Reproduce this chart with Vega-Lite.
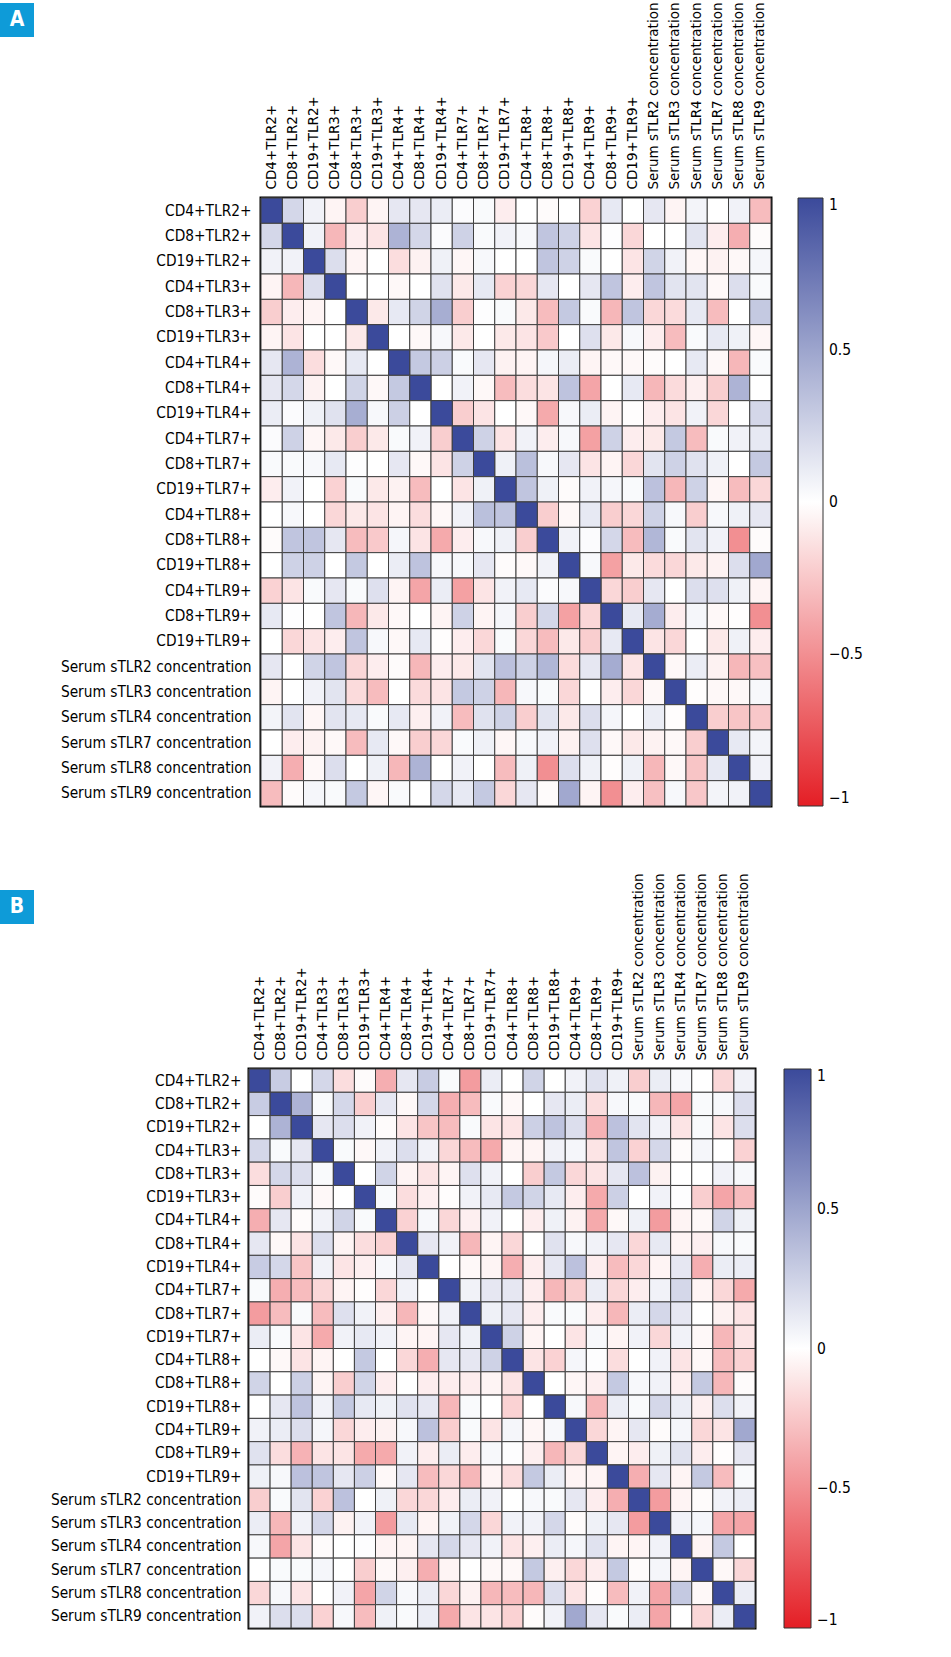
{
"$schema":"https://vega.github.io/schema/vega-lite/v6.json",
"padding":0,
"background":"white",
"config":{"view":{"stroke":null}},
"resolve":{"scale":{"color":"independent"},"legend":{"color":"independent"}},
"spacing":63,
"vconcat":[
{"spacing":24,"hconcat":[
{"width":34,"height":34,"data":{"name":"boxA"},"layer":[
{"mark":{"type":"square","filled":true,"color":"#0e9bd8","opacity":1,"size":1156,"strokeWidth":0,"yOffset":-195},"encoding":{}},
{"mark":{"type":"text","color":"white","font":"DejaVu Sans Condensed","fontSize":21,"fontWeight":"bold","yOffset":-195},"encoding":{"text":{"field":"t"}}}]},
{"width":510,"height":608,"data":{"name":"A"},"view":{"stroke":"black","strokeWidth":3},
"encoding":{"color":{"field":"v","type":"quantitative","scale":{"domain":[-1,0,1],"range":["#e41e25","#ffffff","#3b4a9b"],"interpolate":"rgb"},
"legend":{"title":null,"orient":"right","offset":25,"gradientLength":608,"gradientThickness":25,"values":[1,0.5,0,-0.5,-1],"labelFont":"DejaVu Sans Condensed","labelFontSize":15.5,"labelColor":"black","labelOffset":6,"labelOverlap":false,"labelBaseline":"middle","gradientStrokeColor":"#333333","gradientStrokeWidth":1,"labelExpr":"datum.value < 0 ? '−' + format(-datum.value, '~g') : format(datum.value, '~g')"}}},
"layer":[
{"mark":{"type":"rect","stroke":"#404040","strokeWidth":1},"encoding":{
"x":{"field":"c","type":"ordinal","axis":{"orient":"top","title":null,"labelAngle":-90,"ticks":false,"domain":false,"labelPadding":9,"labelFont":"DejaVu Sans","labelFontSize":13.5,"labelColor":"black","labelLimit":400,"labelExpr":"['CD4+TLR2+','CD8+TLR2+','CD19+TLR2+','CD4+TLR3+','CD8+TLR3+','CD19+TLR3+','CD4+TLR4+','CD8+TLR4+','CD19+TLR4+','CD4+TLR7+','CD8+TLR7+','CD19+TLR7+','CD4+TLR8+','CD8+TLR8+','CD19+TLR8+','CD4+TLR9+','CD8+TLR9+','CD19+TLR9+','Serum sTLR2 concentration','Serum sTLR3 concentration','Serum sTLR4 concentration','Serum sTLR7 concentration','Serum sTLR8 concentration','Serum sTLR9 concentration'][datum.value]"}},
"y":{"field":"r","type":"ordinal","axis":{"title":null,"ticks":false,"domain":false,"labelPadding":10,"labelFont":"DejaVu Sans Condensed","labelFontSize":15.3,"labelColor":"black","labelLimit":400,"labelExpr":"['CD4+TLR2+','CD8+TLR2+','CD19+TLR2+','CD4+TLR3+','CD8+TLR3+','CD19+TLR3+','CD4+TLR4+','CD8+TLR4+','CD19+TLR4+','CD4+TLR7+','CD8+TLR7+','CD19+TLR7+','CD4+TLR8+','CD8+TLR8+','CD19+TLR8+','CD4+TLR9+','CD8+TLR9+','CD19+TLR9+','Serum sTLR2 concentration','Serum sTLR3 concentration','Serum sTLR4 concentration','Serum sTLR7 concentration','Serum sTLR8 concentration','Serum sTLR9 concentration'][datum.value]"}}}},
{"mark":{"type":"rect","stroke":"#404040","strokeWidth":1},"encoding":{
"x":{"field":"r","type":"ordinal","axis":{"orient":"top","title":null,"labelAngle":-90,"ticks":false,"domain":false,"labelPadding":9,"labelFont":"DejaVu Sans","labelFontSize":13.5,"labelColor":"black","labelLimit":400,"labelExpr":"['CD4+TLR2+','CD8+TLR2+','CD19+TLR2+','CD4+TLR3+','CD8+TLR3+','CD19+TLR3+','CD4+TLR4+','CD8+TLR4+','CD19+TLR4+','CD4+TLR7+','CD8+TLR7+','CD19+TLR7+','CD4+TLR8+','CD8+TLR8+','CD19+TLR8+','CD4+TLR9+','CD8+TLR9+','CD19+TLR9+','Serum sTLR2 concentration','Serum sTLR3 concentration','Serum sTLR4 concentration','Serum sTLR7 concentration','Serum sTLR8 concentration','Serum sTLR9 concentration'][datum.value]"}},
"y":{"field":"c","type":"ordinal","axis":{"title":null,"ticks":false,"domain":false,"labelPadding":10,"labelFont":"DejaVu Sans Condensed","labelFontSize":15.3,"labelColor":"black","labelLimit":400,"labelExpr":"['CD4+TLR2+','CD8+TLR2+','CD19+TLR2+','CD4+TLR3+','CD8+TLR3+','CD19+TLR3+','CD4+TLR4+','CD8+TLR4+','CD19+TLR4+','CD4+TLR7+','CD8+TLR7+','CD19+TLR7+','CD4+TLR8+','CD8+TLR8+','CD19+TLR8+','CD4+TLR9+','CD8+TLR9+','CD19+TLR9+','Serum sTLR2 concentration','Serum sTLR3 concentration','Serum sTLR4 concentration','Serum sTLR7 concentration','Serum sTLR8 concentration','Serum sTLR9 concentration'][datum.value]"}}}}
]}
]},
{"spacing":14,"hconcat":[
{"width":34,"height":34,"data":{"name":"boxB"},"layer":[
{"mark":{"type":"square","filled":true,"color":"#0e9bd8","opacity":1,"size":1156,"strokeWidth":0,"yOffset":-179},"encoding":{}},
{"mark":{"type":"text","color":"white","font":"DejaVu Sans Condensed","fontSize":21,"fontWeight":"bold","yOffset":-179},"encoding":{"text":{"field":"t"}}}]},
{"width":506,"height":559,"data":{"name":"B"},"view":{"stroke":"black","strokeWidth":3},
"encoding":{"color":{"field":"v","type":"quantitative","scale":{"domain":[-1,0,1],"range":["#e41e25","#ffffff","#3b4a9b"],"interpolate":"rgb"},
"legend":{"title":null,"orient":"right","offset":27,"gradientLength":559,"gradientThickness":27,"values":[1,0.5,0,-0.5,-1],"labelFont":"DejaVu Sans Condensed","labelFontSize":15.5,"labelColor":"black","labelOffset":6,"labelOverlap":false,"labelBaseline":"middle","gradientStrokeColor":"#333333","gradientStrokeWidth":1,"labelExpr":"datum.value < 0 ? '−' + format(-datum.value, '~g') : format(datum.value, '~g')"}}},
"layer":[
{"mark":{"type":"rect","stroke":"#404040","strokeWidth":1},"encoding":{
"x":{"field":"c","type":"ordinal","axis":{"orient":"top","title":null,"labelAngle":-90,"ticks":false,"domain":false,"labelPadding":9,"labelFont":"DejaVu Sans","labelFontSize":13.5,"labelColor":"black","labelLimit":400,"labelExpr":"['CD4+TLR2+','CD8+TLR2+','CD19+TLR2+','CD4+TLR3+','CD8+TLR3+','CD19+TLR3+','CD4+TLR4+','CD8+TLR4+','CD19+TLR4+','CD4+TLR7+','CD8+TLR7+','CD19+TLR7+','CD4+TLR8+','CD8+TLR8+','CD19+TLR8+','CD4+TLR9+','CD8+TLR9+','CD19+TLR9+','Serum sTLR2 concentration','Serum sTLR3 concentration','Serum sTLR4 concentration','Serum sTLR7 concentration','Serum sTLR8 concentration','Serum sTLR9 concentration'][datum.value]"}},
"y":{"field":"r","type":"ordinal","axis":{"title":null,"ticks":false,"domain":false,"labelPadding":8,"labelFont":"DejaVu Sans Condensed","labelFontSize":15.3,"labelColor":"black","labelLimit":400,"labelExpr":"['CD4+TLR2+','CD8+TLR2+','CD19+TLR2+','CD4+TLR3+','CD8+TLR3+','CD19+TLR3+','CD4+TLR4+','CD8+TLR4+','CD19+TLR4+','CD4+TLR7+','CD8+TLR7+','CD19+TLR7+','CD4+TLR8+','CD8+TLR8+','CD19+TLR8+','CD4+TLR9+','CD8+TLR9+','CD19+TLR9+','Serum sTLR2 concentration','Serum sTLR3 concentration','Serum sTLR4 concentration','Serum sTLR7 concentration','Serum sTLR8 concentration','Serum sTLR9 concentration'][datum.value]"}}}},
{"mark":{"type":"rect","stroke":"#404040","strokeWidth":1},"encoding":{
"x":{"field":"r","type":"ordinal","axis":{"orient":"top","title":null,"labelAngle":-90,"ticks":false,"domain":false,"labelPadding":9,"labelFont":"DejaVu Sans","labelFontSize":13.5,"labelColor":"black","labelLimit":400,"labelExpr":"['CD4+TLR2+','CD8+TLR2+','CD19+TLR2+','CD4+TLR3+','CD8+TLR3+','CD19+TLR3+','CD4+TLR4+','CD8+TLR4+','CD19+TLR4+','CD4+TLR7+','CD8+TLR7+','CD19+TLR7+','CD4+TLR8+','CD8+TLR8+','CD19+TLR8+','CD4+TLR9+','CD8+TLR9+','CD19+TLR9+','Serum sTLR2 concentration','Serum sTLR3 concentration','Serum sTLR4 concentration','Serum sTLR7 concentration','Serum sTLR8 concentration','Serum sTLR9 concentration'][datum.value]"}},
"y":{"field":"c","type":"ordinal","axis":{"title":null,"ticks":false,"domain":false,"labelPadding":8,"labelFont":"DejaVu Sans Condensed","labelFontSize":15.3,"labelColor":"black","labelLimit":400,"labelExpr":"['CD4+TLR2+','CD8+TLR2+','CD19+TLR2+','CD4+TLR3+','CD8+TLR3+','CD19+TLR3+','CD4+TLR4+','CD8+TLR4+','CD19+TLR4+','CD4+TLR7+','CD8+TLR7+','CD19+TLR7+','CD4+TLR8+','CD8+TLR8+','CD19+TLR8+','CD4+TLR9+','CD8+TLR9+','CD19+TLR9+','Serum sTLR2 concentration','Serum sTLR3 concentration','Serum sTLR4 concentration','Serum sTLR7 concentration','Serum sTLR8 concentration','Serum sTLR9 concentration'][datum.value]"}}}}
]}
]}
],
"datasets":{
"boxA":[{"t":"A"}],
"boxB":[{"t":"B"}],
"A":[
{"r":0,"c":0,"v":1},{"r":0,"c":1,"v":0.22},{"r":0,"c":2,"v":0.07},{"r":0,"c":3,"v":-0.05},{"r":0,"c":4,"v":-0.22},{"r":0,"c":5,"v":-0.05},{"r":0,"c":6,"v":0.13},{"r":0,"c":7,"v":0.13},{"r":0,"c":8,"v":0.1},{"r":0,"c":9,"v":0.02},{"r":0,"c":10,"v":0.03},{"r":0,"c":11,"v":-0.08},{"r":0,"c":12,"v":0},{"r":0,"c":13,"v":-0.02},{"r":0,"c":14,"v":0},{"r":0,"c":15,"v":-0.2},{"r":0,"c":16,"v":0.12},{"r":0,"c":17,"v":0},{"r":0,"c":18,"v":0.13},{"r":0,"c":19,"v":-0.05},{"r":0,"c":20,"v":0.06},{"r":0,"c":21,"v":0},{"r":0,"c":22,"v":0.07},{"r":0,"c":23,"v":-0.3},
{"r":1,"c":1,"v":1},{"r":1,"c":2,"v":0.07},{"r":1,"c":3,"v":-0.32},{"r":1,"c":4,"v":-0.08},{"r":1,"c":5,"v":-0.12},{"r":1,"c":6,"v":0.42},{"r":1,"c":7,"v":0.22},{"r":1,"c":8,"v":0.02},{"r":1,"c":9,"v":0.25},{"r":1,"c":10,"v":0.03},{"r":1,"c":11,"v":0.07},{"r":1,"c":12,"v":0.04},{"r":1,"c":13,"v":0.32},{"r":1,"c":14,"v":0.25},{"r":1,"c":15,"v":-0.12},{"r":1,"c":16,"v":0.01},{"r":1,"c":17,"v":-0.18},{"r":1,"c":18,"v":0},{"r":1,"c":19,"v":0},{"r":1,"c":20,"v":0.15},{"r":1,"c":21,"v":-0.08},{"r":1,"c":22,"v":-0.36},{"r":1,"c":23,"v":-0.02},
{"r":2,"c":2,"v":1},{"r":2,"c":3,"v":0.18},{"r":2,"c":4,"v":-0.05},{"r":2,"c":5,"v":0},{"r":2,"c":6,"v":-0.15},{"r":2,"c":7,"v":-0.06},{"r":2,"c":8,"v":0.08},{"r":2,"c":9,"v":-0.04},{"r":2,"c":10,"v":0.04},{"r":2,"c":11,"v":0},{"r":2,"c":12,"v":0},{"r":2,"c":13,"v":0.32},{"r":2,"c":14,"v":0.25},{"r":2,"c":15,"v":0.03},{"r":2,"c":16,"v":0},{"r":2,"c":17,"v":-0.12},{"r":2,"c":18,"v":0.24},{"r":2,"c":19,"v":0.07},{"r":2,"c":20,"v":-0.04},{"r":2,"c":21,"v":-0.06},{"r":2,"c":22,"v":-0.03},{"r":2,"c":23,"v":0.05},
{"r":3,"c":3,"v":1},{"r":3,"c":4,"v":0},{"r":3,"c":5,"v":0},{"r":3,"c":6,"v":-0.03},{"r":3,"c":7,"v":0},{"r":3,"c":8,"v":0.16},{"r":3,"c":9,"v":-0.1},{"r":3,"c":10,"v":0.12},{"r":3,"c":11,"v":-0.2},{"r":3,"c":12,"v":-0.18},{"r":3,"c":13,"v":0.13},{"r":3,"c":14,"v":0},{"r":3,"c":15,"v":0.13},{"r":3,"c":16,"v":0.32},{"r":3,"c":17,"v":-0.08},{"r":3,"c":18,"v":0.32},{"r":3,"c":19,"v":0.15},{"r":3,"c":20,"v":0.15},{"r":3,"c":21,"v":-0.03},{"r":3,"c":22,"v":0.18},{"r":3,"c":23,"v":0.03},
{"r":4,"c":4,"v":1},{"r":4,"c":5,"v":-0.1},{"r":4,"c":6,"v":0.12},{"r":4,"c":7,"v":0.24},{"r":4,"c":8,"v":0.45},{"r":4,"c":9,"v":-0.22},{"r":4,"c":10,"v":0.01},{"r":4,"c":11,"v":0.03},{"r":4,"c":12,"v":-0.1},{"r":4,"c":13,"v":-0.3},{"r":4,"c":14,"v":0.3},{"r":4,"c":15,"v":0.03},{"r":4,"c":16,"v":-0.32},{"r":4,"c":17,"v":0.32},{"r":4,"c":18,"v":-0.18},{"r":4,"c":19,"v":-0.16},{"r":4,"c":20,"v":0.12},{"r":4,"c":21,"v":-0.3},{"r":4,"c":22,"v":0},{"r":4,"c":23,"v":0.3},
{"r":5,"c":5,"v":1},{"r":5,"c":6,"v":0},{"r":5,"c":7,"v":-0.03},{"r":5,"c":8,"v":0.04},{"r":5,"c":9,"v":-0.1},{"r":5,"c":10,"v":0},{"r":5,"c":11,"v":-0.1},{"r":5,"c":12,"v":-0.12},{"r":5,"c":13,"v":-0.24},{"r":5,"c":14,"v":0},{"r":5,"c":15,"v":0.17},{"r":5,"c":16,"v":-0.1},{"r":5,"c":17,"v":0.04},{"r":5,"c":18,"v":-0.08},{"r":5,"c":19,"v":-0.3},{"r":5,"c":20,"v":0.03},{"r":5,"c":21,"v":0.12},{"r":5,"c":22,"v":0.08},{"r":5,"c":23,"v":-0.04},
{"r":6,"c":6,"v":1},{"r":6,"c":7,"v":0.3},{"r":6,"c":8,"v":0.26},{"r":6,"c":9,"v":0.03},{"r":6,"c":10,"v":0.13},{"r":6,"c":11,"v":-0.06},{"r":6,"c":12,"v":-0.05},{"r":6,"c":13,"v":0.05},{"r":6,"c":14,"v":0.1},{"r":6,"c":15,"v":-0.05},{"r":6,"c":16,"v":-0.03},{"r":6,"c":17,"v":-0.03},{"r":6,"c":18,"v":-0.02},{"r":6,"c":19,"v":0},{"r":6,"c":20,"v":0.12},{"r":6,"c":21,"v":-0.03},{"r":6,"c":22,"v":-0.32},{"r":6,"c":23,"v":0.03},
{"r":7,"c":7,"v":1},{"r":7,"c":8,"v":0},{"r":7,"c":9,"v":0.07},{"r":7,"c":10,"v":-0.03},{"r":7,"c":11,"v":-0.3},{"r":7,"c":12,"v":-0.15},{"r":7,"c":13,"v":-0.12},{"r":7,"c":14,"v":0.33},{"r":7,"c":15,"v":-0.4},{"r":7,"c":16,"v":0},{"r":7,"c":17,"v":0.12},{"r":7,"c":18,"v":-0.32},{"r":7,"c":19,"v":-0.16},{"r":7,"c":20,"v":-0.07},{"r":7,"c":21,"v":-0.22},{"r":7,"c":22,"v":0.42},{"r":7,"c":23,"v":0},
{"r":8,"c":8,"v":1},{"r":8,"c":9,"v":-0.22},{"r":8,"c":10,"v":-0.12},{"r":8,"c":11,"v":0},{"r":8,"c":12,"v":-0.03},{"r":8,"c":13,"v":-0.38},{"r":8,"c":14,"v":0.04},{"r":8,"c":15,"v":0.1},{"r":8,"c":16,"v":-0.05},{"r":8,"c":17,"v":-0.01},{"r":8,"c":18,"v":-0.08},{"r":8,"c":19,"v":-0.12},{"r":8,"c":20,"v":0.07},{"r":8,"c":21,"v":-0.18},{"r":8,"c":22,"v":0},{"r":8,"c":23,"v":0.22},
{"r":9,"c":9,"v":1},{"r":9,"c":10,"v":0.25},{"r":9,"c":11,"v":-0.12},{"r":9,"c":12,"v":0.07},{"r":9,"c":13,"v":-0.08},{"r":9,"c":14,"v":0.04},{"r":9,"c":15,"v":-0.42},{"r":9,"c":16,"v":0.25},{"r":9,"c":17,"v":-0.08},{"r":9,"c":18,"v":-0.1},{"r":9,"c":19,"v":0.3},{"r":9,"c":20,"v":-0.3},{"r":9,"c":21,"v":0.03},{"r":9,"c":22,"v":0.07},{"r":9,"c":23,"v":0.12},
{"r":10,"c":10,"v":1},{"r":10,"c":11,"v":0.08},{"r":10,"c":12,"v":0.35},{"r":10,"c":13,"v":0.04},{"r":10,"c":14,"v":0.13},{"r":10,"c":15,"v":-0.12},{"r":10,"c":16,"v":-0.05},{"r":10,"c":17,"v":-0.18},{"r":10,"c":18,"v":0.15},{"r":10,"c":19,"v":0.25},{"r":10,"c":20,"v":0.16},{"r":10,"c":21,"v":0.08},{"r":10,"c":22,"v":0},{"r":10,"c":23,"v":0.3},
{"r":11,"c":11,"v":1},{"r":11,"c":12,"v":0.32},{"r":11,"c":13,"v":0.08},{"r":11,"c":14,"v":-0.02},{"r":11,"c":15,"v":0.07},{"r":11,"c":16,"v":0.05},{"r":11,"c":17,"v":0.03},{"r":11,"c":18,"v":0.34},{"r":11,"c":19,"v":-0.32},{"r":11,"c":20,"v":0.25},{"r":11,"c":21,"v":-0.04},{"r":11,"c":22,"v":-0.3},{"r":11,"c":23,"v":-0.18},
{"r":12,"c":12,"v":1},{"r":12,"c":13,"v":-0.22},{"r":12,"c":14,"v":-0.03},{"r":12,"c":15,"v":0.12},{"r":12,"c":16,"v":-0.22},{"r":12,"c":17,"v":-0.18},{"r":12,"c":18,"v":0.25},{"r":12,"c":19,"v":0.04},{"r":12,"c":20,"v":-0.22},{"r":12,"c":21,"v":0.04},{"r":12,"c":22,"v":0.08},{"r":12,"c":23,"v":0.13},
{"r":13,"c":13,"v":1},{"r":13,"c":14,"v":0.07},{"r":13,"c":15,"v":0.02},{"r":13,"c":16,"v":0.22},{"r":13,"c":17,"v":-0.3},{"r":13,"c":18,"v":0.4},{"r":13,"c":19,"v":0.03},{"r":13,"c":20,"v":0.15},{"r":13,"c":21,"v":0.07},{"r":13,"c":22,"v":-0.5},{"r":13,"c":23,"v":-0.02},
{"r":14,"c":14,"v":1},{"r":14,"c":15,"v":0.04},{"r":14,"c":16,"v":-0.42},{"r":14,"c":17,"v":-0.1},{"r":14,"c":18,"v":-0.16},{"r":14,"c":19,"v":-0.18},{"r":14,"c":20,"v":-0.1},{"r":14,"c":21,"v":-0.06},{"r":14,"c":22,"v":0.18},{"r":14,"c":23,"v":0.48},
{"r":15,"c":15,"v":1},{"r":15,"c":16,"v":-0.18},{"r":15,"c":17,"v":-0.22},{"r":15,"c":18,"v":0.13},{"r":15,"c":19,"v":0},{"r":15,"c":20,"v":0.18},{"r":15,"c":21,"v":0.17},{"r":15,"c":22,"v":0.08},{"r":15,"c":23,"v":-0.05},
{"r":16,"c":16,"v":1},{"r":16,"c":17,"v":0.12},{"r":16,"c":18,"v":0.46},{"r":16,"c":19,"v":-0.08},{"r":16,"c":20,"v":0.05},{"r":16,"c":21,"v":-0.03},{"r":16,"c":22,"v":-0.01},{"r":16,"c":23,"v":-0.5},
{"r":17,"c":17,"v":1},{"r":17,"c":18,"v":-0.12},{"r":17,"c":19,"v":-0.18},{"r":17,"c":20,"v":0},{"r":17,"c":21,"v":-0.1},{"r":17,"c":22,"v":0.08},{"r":17,"c":23,"v":-0.08},
{"r":18,"c":18,"v":1},{"r":18,"c":19,"v":-0.03},{"r":18,"c":20,"v":0.1},{"r":18,"c":21,"v":-0.06},{"r":18,"c":22,"v":-0.32},{"r":18,"c":23,"v":-0.28},
{"r":19,"c":19,"v":1},{"r":19,"c":20,"v":-0.01},{"r":19,"c":21,"v":-0.03},{"r":19,"c":22,"v":-0.03},{"r":19,"c":23,"v":0.04},
{"r":20,"c":20,"v":1},{"r":20,"c":21,"v":-0.22},{"r":20,"c":22,"v":-0.26},{"r":20,"c":23,"v":-0.25},
{"r":21,"c":21,"v":1},{"r":21,"c":22,"v":0.12},{"r":21,"c":23,"v":0.06},
{"r":22,"c":22,"v":1},{"r":22,"c":23,"v":0.07},
{"r":23,"c":23,"v":1}
],
"B":[
{"r":0,"c":0,"v":1},{"r":0,"c":1,"v":0.28},{"r":0,"c":2,"v":0},{"r":0,"c":3,"v":0.22},{"r":0,"c":4,"v":-0.15},{"r":0,"c":5,"v":-0.02},{"r":0,"c":6,"v":-0.36},{"r":0,"c":7,"v":0.13},{"r":0,"c":8,"v":0.28},{"r":0,"c":9,"v":0.03},{"r":0,"c":10,"v":-0.44},{"r":0,"c":11,"v":0.1},{"r":0,"c":12,"v":0},{"r":0,"c":13,"v":0.24},{"r":0,"c":14,"v":0},{"r":0,"c":15,"v":0.07},{"r":0,"c":16,"v":0.16},{"r":0,"c":17,"v":0.08},{"r":0,"c":18,"v":-0.22},{"r":0,"c":19,"v":0.1},{"r":0,"c":20,"v":0.04},{"r":0,"c":21,"v":0},{"r":0,"c":22,"v":-0.18},{"r":0,"c":23,"v":0.07},
{"r":1,"c":1,"v":1},{"r":1,"c":2,"v":0.42},{"r":1,"c":3,"v":0.03},{"r":1,"c":4,"v":0.22},{"r":1,"c":5,"v":-0.22},{"r":1,"c":6,"v":0.13},{"r":1,"c":7,"v":-0.03},{"r":1,"c":8,"v":0.22},{"r":1,"c":9,"v":-0.36},{"r":1,"c":10,"v":-0.3},{"r":1,"c":11,"v":0.03},{"r":1,"c":12,"v":-0.03},{"r":1,"c":13,"v":0},{"r":1,"c":14,"v":0.13},{"r":1,"c":15,"v":0.1},{"r":1,"c":16,"v":-0.15},{"r":1,"c":17,"v":0.04},{"r":1,"c":18,"v":0.03},{"r":1,"c":19,"v":-0.32},{"r":1,"c":20,"v":-0.4},{"r":1,"c":21,"v":0.03},{"r":1,"c":22,"v":0.04},{"r":1,"c":23,"v":0.18},
{"r":2,"c":2,"v":1},{"r":2,"c":3,"v":0.13},{"r":2,"c":4,"v":0.18},{"r":2,"c":5,"v":0.07},{"r":2,"c":6,"v":-0.02},{"r":2,"c":7,"v":-0.12},{"r":2,"c":8,"v":-0.26},{"r":2,"c":9,"v":-0.3},{"r":2,"c":10,"v":0.03},{"r":2,"c":11,"v":-0.12},{"r":2,"c":12,"v":-0.12},{"r":2,"c":13,"v":0.26},{"r":2,"c":14,"v":0.33},{"r":2,"c":15,"v":0.18},{"r":2,"c":16,"v":-0.34},{"r":2,"c":17,"v":0.34},{"r":2,"c":18,"v":0.15},{"r":2,"c":19,"v":0.07},{"r":2,"c":20,"v":-0.12},{"r":2,"c":21,"v":0.03},{"r":2,"c":22,"v":-0.12},{"r":2,"c":23,"v":0.18},
{"r":3,"c":3,"v":1},{"r":3,"c":4,"v":0.03},{"r":3,"c":5,"v":-0.03},{"r":3,"c":6,"v":0.07},{"r":3,"c":7,"v":0.18},{"r":3,"c":8,"v":0.07},{"r":3,"c":9,"v":-0.18},{"r":3,"c":10,"v":-0.3},{"r":3,"c":11,"v":-0.38},{"r":3,"c":12,"v":-0.05},{"r":3,"c":13,"v":-0.05},{"r":3,"c":14,"v":0.07},{"r":3,"c":15,"v":0.05},{"r":3,"c":16,"v":-0.12},{"r":3,"c":17,"v":0.32},{"r":3,"c":18,"v":-0.2},{"r":3,"c":19,"v":0.22},{"r":3,"c":20,"v":-0.02},{"r":3,"c":21,"v":0.05},{"r":3,"c":22,"v":0},{"r":3,"c":23,"v":-0.2},
{"r":4,"c":4,"v":1},{"r":4,"c":5,"v":0},{"r":4,"c":6,"v":0.24},{"r":4,"c":7,"v":-0.05},{"r":4,"c":8,"v":-0.12},{"r":4,"c":9,"v":-0.05},{"r":4,"c":10,"v":0.17},{"r":4,"c":11,"v":0.07},{"r":4,"c":12,"v":0},{"r":4,"c":13,"v":-0.22},{"r":4,"c":14,"v":0.3},{"r":4,"c":15,"v":-0.18},{"r":4,"c":16,"v":-0.12},{"r":4,"c":17,"v":0.13},{"r":4,"c":18,"v":0.34},{"r":4,"c":19,"v":-0.06},{"r":4,"c":20,"v":0},{"r":4,"c":21,"v":0},{"r":4,"c":22,"v":0.07},{"r":4,"c":23,"v":0.04},
{"r":5,"c":5,"v":1},{"r":5,"c":6,"v":0.03},{"r":5,"c":7,"v":-0.15},{"r":5,"c":8,"v":-0.07},{"r":5,"c":9,"v":-0.01},{"r":5,"c":10,"v":0.07},{"r":5,"c":11,"v":0.12},{"r":5,"c":12,"v":0.3},{"r":5,"c":13,"v":0.24},{"r":5,"c":14,"v":0.12},{"r":5,"c":15,"v":-0.08},{"r":5,"c":16,"v":-0.38},{"r":5,"c":17,"v":0.26},{"r":5,"c":18,"v":0},{"r":5,"c":19,"v":0.07},{"r":5,"c":20,"v":0.01},{"r":5,"c":21,"v":-0.22},{"r":5,"c":22,"v":-0.4},{"r":5,"c":23,"v":-0.3},
{"r":6,"c":6,"v":1},{"r":6,"c":7,"v":-0.2},{"r":6,"c":8,"v":0.04},{"r":6,"c":9,"v":-0.18},{"r":6,"c":10,"v":-0.07},{"r":6,"c":11,"v":0.07},{"r":6,"c":12,"v":0},{"r":6,"c":13,"v":-0.08},{"r":6,"c":14,"v":0.08},{"r":6,"c":15,"v":-0.06},{"r":6,"c":16,"v":-0.38},{"r":6,"c":17,"v":-0.03},{"r":6,"c":18,"v":0.08},{"r":6,"c":19,"v":-0.44},{"r":6,"c":20,"v":-0.05},{"r":6,"c":21,"v":-0.03},{"r":6,"c":22,"v":0.24},{"r":6,"c":23,"v":0.08},
{"r":7,"c":7,"v":1},{"r":7,"c":8,"v":0.13},{"r":7,"c":9,"v":0.07},{"r":7,"c":10,"v":-0.32},{"r":7,"c":11,"v":-0.05},{"r":7,"c":12,"v":-0.18},{"r":7,"c":13,"v":0},{"r":7,"c":14,"v":0.16},{"r":7,"c":15,"v":0.04},{"r":7,"c":16,"v":0.07},{"r":7,"c":17,"v":0.13},{"r":7,"c":18,"v":-0.18},{"r":7,"c":19,"v":0.12},{"r":7,"c":20,"v":-0.05},{"r":7,"c":21,"v":-0.07},{"r":7,"c":22,"v":0.04},{"r":7,"c":23,"v":0.03},
{"r":8,"c":8,"v":1},{"r":8,"c":9,"v":0},{"r":8,"c":10,"v":-0.03},{"r":8,"c":11,"v":-0.05},{"r":8,"c":12,"v":-0.36},{"r":8,"c":13,"v":-0.08},{"r":8,"c":14,"v":0.13},{"r":8,"c":15,"v":0.34},{"r":8,"c":16,"v":-0.08},{"r":8,"c":17,"v":-0.3},{"r":8,"c":18,"v":-0.18},{"r":8,"c":19,"v":-0.05},{"r":8,"c":20,"v":0.13},{"r":8,"c":21,"v":-0.36},{"r":8,"c":22,"v":0.1},{"r":8,"c":23,"v":0.1},
{"r":9,"c":9,"v":1},{"r":9,"c":10,"v":0.07},{"r":9,"c":11,"v":0.13},{"r":9,"c":12,"v":0.13},{"r":9,"c":13,"v":-0.08},{"r":9,"c":14,"v":-0.32},{"r":9,"c":15,"v":-0.22},{"r":9,"c":16,"v":0.1},{"r":9,"c":17,"v":-0.18},{"r":9,"c":18,"v":-0.08},{"r":9,"c":19,"v":0.07},{"r":9,"c":20,"v":0.22},{"r":9,"c":21,"v":-0.05},{"r":9,"c":22,"v":-0.18},{"r":9,"c":23,"v":-0.38},
{"r":10,"c":10,"v":1},{"r":10,"c":11,"v":0.08},{"r":10,"c":12,"v":0.13},{"r":10,"c":13,"v":-0.08},{"r":10,"c":14,"v":0.03},{"r":10,"c":15,"v":0.03},{"r":10,"c":16,"v":-0.08},{"r":10,"c":17,"v":-0.32},{"r":10,"c":18,"v":0.1},{"r":10,"c":19,"v":0.22},{"r":10,"c":20,"v":0.13},{"r":10,"c":21,"v":0},{"r":10,"c":22,"v":-0.06},{"r":10,"c":23,"v":-0.12},
{"r":11,"c":11,"v":1},{"r":11,"c":12,"v":0.25},{"r":11,"c":13,"v":-0.05},{"r":11,"c":14,"v":0},{"r":11,"c":15,"v":-0.12},{"r":11,"c":16,"v":0.04},{"r":11,"c":17,"v":-0.05},{"r":11,"c":18,"v":0.07},{"r":11,"c":19,"v":-0.18},{"r":11,"c":20,"v":0.07},{"r":11,"c":21,"v":-0.03},{"r":11,"c":22,"v":-0.32},{"r":11,"c":23,"v":-0.12},
{"r":12,"c":12,"v":1},{"r":12,"c":13,"v":-0.12},{"r":12,"c":14,"v":-0.2},{"r":12,"c":15,"v":0.05},{"r":12,"c":16,"v":0.01},{"r":12,"c":17,"v":-0.15},{"r":12,"c":18,"v":0},{"r":12,"c":19,"v":0.07},{"r":12,"c":20,"v":-0.12},{"r":12,"c":21,"v":-0.03},{"r":12,"c":22,"v":-0.3},{"r":12,"c":23,"v":-0.2},
{"r":13,"c":13,"v":1},{"r":13,"c":14,"v":0},{"r":13,"c":15,"v":-0.04},{"r":13,"c":16,"v":-0.07},{"r":13,"c":17,"v":0.3},{"r":13,"c":18,"v":0.04},{"r":13,"c":19,"v":0.07},{"r":13,"c":20,"v":-0.07},{"r":13,"c":21,"v":0.3},{"r":13,"c":22,"v":-0.32},{"r":13,"c":23,"v":-0.02},
{"r":14,"c":14,"v":1},{"r":14,"c":15,"v":0.04},{"r":14,"c":16,"v":-0.32},{"r":14,"c":17,"v":0.1},{"r":14,"c":18,"v":0.03},{"r":14,"c":19,"v":0.22},{"r":14,"c":20,"v":0.1},{"r":14,"c":21,"v":-0.07},{"r":14,"c":22,"v":0.18},{"r":14,"c":23,"v":0.07},
{"r":15,"c":15,"v":1},{"r":15,"c":16,"v":-0.18},{"r":15,"c":17,"v":-0.05},{"r":15,"c":18,"v":0.13},{"r":15,"c":19,"v":-0.02},{"r":15,"c":20,"v":0.05},{"r":15,"c":21,"v":-0.18},{"r":15,"c":22,"v":-0.12},{"r":15,"c":23,"v":0.48},
{"r":16,"c":16,"v":1},{"r":16,"c":17,"v":-0.05},{"r":16,"c":18,"v":-0.08},{"r":16,"c":19,"v":0.08},{"r":16,"c":20,"v":0.16},{"r":16,"c":21,"v":-0.08},{"r":16,"c":22,"v":-0.01},{"r":16,"c":23,"v":0.13},
{"r":17,"c":17,"v":1},{"r":17,"c":18,"v":-0.36},{"r":17,"c":19,"v":0.13},{"r":17,"c":20,"v":-0.05},{"r":17,"c":21,"v":0.3},{"r":17,"c":22,"v":-0.3},{"r":17,"c":23,"v":0.03},
{"r":18,"c":18,"v":1},{"r":18,"c":19,"v":-0.44},{"r":18,"c":20,"v":-0.05},{"r":18,"c":21,"v":-0.02},{"r":18,"c":22,"v":0.07},{"r":18,"c":23,"v":0.1},
{"r":19,"c":19,"v":1},{"r":19,"c":20,"v":0.07},{"r":19,"c":21,"v":0.05},{"r":19,"c":22,"v":-0.4},{"r":19,"c":23,"v":-0.4},
{"r":20,"c":20,"v":1},{"r":20,"c":21,"v":-0.05},{"r":20,"c":22,"v":0.3},{"r":20,"c":23,"v":0},
{"r":21,"c":21,"v":1},{"r":21,"c":22,"v":-0.03},{"r":21,"c":23,"v":-0.18},
{"r":22,"c":22,"v":1},{"r":22,"c":23,"v":0.1},
{"r":23,"c":23,"v":1}
]
}
}
